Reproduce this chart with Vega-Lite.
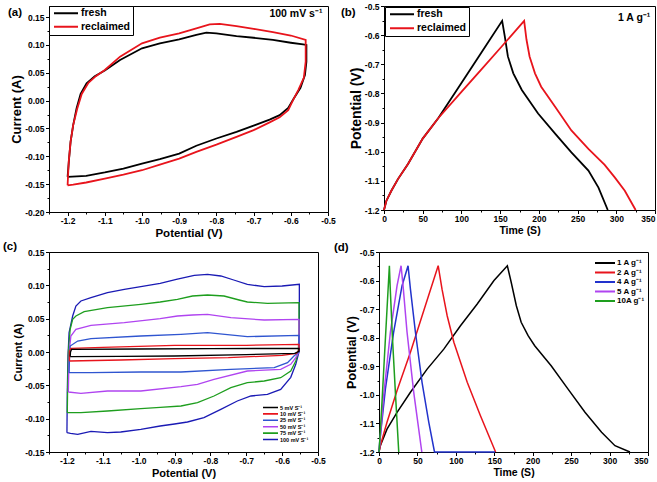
{
"$schema": "https://vega.github.io/schema/vega-lite/v6.json",
"padding": {"left": 2, "top": 1, "right": 0, "bottom": 0},
"background": "white",
"config": {
  "font": "Liberation Sans",
  "view": {"stroke": "#000", "strokeWidth": 1},
  "axis": {"grid": false, "domainColor": "#000", "tickColor": "#000", "tickSize": 3, "labelFont": "Liberation Sans", "labelFontWeight": "bold", "labelFontSize": 8.5, "labelColor": "#000", "titleFont": "Liberation Sans", "titleFontWeight": "bold", "titleColor": "#000", "labelPadding": 1.5, "titlePadding": 1, "labelFlush": false, "labelOverlap": false},
  "axisX": {"labelPadding": 1, "titlePadding": 2},
  "legend": {"labelFont": "Liberation Sans", "labelFontWeight": "bold", "labelColor": "#000", "symbolType": "stroke"},
  "title": {"font": "Liberation Sans", "fontWeight": "bold", "fontSize": 11.5, "color": "#000", "anchor": "start", "frame": "group"}
},
"datasets": {
  "pa": [
    {"s":"fresh","i":0,"x":-1.2,"y":-0.137},{"s":"fresh","i":1,"x":-1.196,"y":-0.104},{"s":"fresh","i":2,"x":-1.192,"y":-0.074},{"s":"fresh","i":3,"x":-1.185,"y":-0.044},{"s":"fresh","i":4,"x":-1.176,"y":-0.014},{"s":"fresh","i":5,"x":-1.165,"y":0.012},{"s":"fresh","i":6,"x":-1.149,"y":0.031},{"s":"fresh","i":7,"x":-1.127,"y":0.044},{"s":"fresh","i":8,"x":-1.1,"y":0.054},{"s":"fresh","i":9,"x":-1.059,"y":0.073},{"s":"fresh","i":10,"x":-1.0,"y":0.094},{"s":"fresh","i":11,"x":-0.952,"y":0.103},{"s":"fresh","i":12,"x":-0.9,"y":0.11},{"s":"fresh","i":13,"x":-0.854,"y":0.118},{"s":"fresh","i":14,"x":-0.827,"y":0.122},{"s":"fresh","i":15,"x":-0.8,"y":0.121},{"s":"fresh","i":16,"x":-0.746,"y":0.116},{"s":"fresh","i":17,"x":-0.7,"y":0.113},{"s":"fresh","i":18,"x":-0.648,"y":0.109},{"s":"fresh","i":19,"x":-0.6,"y":0.104},{"s":"fresh","i":20,"x":-0.567,"y":0.101},{"s":"fresh","i":21,"x":-0.558,"y":0.1},{"s":"fresh","i":22,"x":-0.558,"y":0.07},{"s":"fresh","i":23,"x":-0.562,"y":0.046},{"s":"fresh","i":24,"x":-0.574,"y":0.023},{"s":"fresh","i":25,"x":-0.592,"y":0.004},{"s":"fresh","i":26,"x":-0.607,"y":-0.013},{"s":"fresh","i":27,"x":-0.63,"y":-0.026},{"s":"fresh","i":28,"x":-0.657,"y":-0.034},{"s":"fresh","i":29,"x":-0.7,"y":-0.045},{"s":"fresh","i":30,"x":-0.746,"y":-0.056},{"s":"fresh","i":31,"x":-0.8,"y":-0.068},{"s":"fresh","i":32,"x":-0.854,"y":-0.081},{"s":"fresh","i":33,"x":-0.9,"y":-0.095},{"s":"fresh","i":34,"x":-0.952,"y":-0.105},{"s":"fresh","i":35,"x":-1.0,"y":-0.113},{"s":"fresh","i":36,"x":-1.05,"y":-0.122},{"s":"fresh","i":37,"x":-1.1,"y":-0.129},{"s":"fresh","i":38,"x":-1.15,"y":-0.135},{"s":"fresh","i":39,"x":-1.2,"y":-0.137},
    {"s":"reclaimed","i":0,"x":-1.2,"y":-0.152},{"s":"reclaimed","i":1,"x":-1.197,"y":-0.11},{"s":"reclaimed","i":2,"x":-1.192,"y":-0.074},{"s":"reclaimed","i":3,"x":-1.185,"y":-0.044},{"s":"reclaimed","i":4,"x":-1.174,"y":-0.014},{"s":"reclaimed","i":5,"x":-1.162,"y":0.012},{"s":"reclaimed","i":6,"x":-1.144,"y":0.032},{"s":"reclaimed","i":7,"x":-1.124,"y":0.044},{"s":"reclaimed","i":8,"x":-1.1,"y":0.055},{"s":"reclaimed","i":9,"x":-1.059,"y":0.079},{"s":"reclaimed","i":10,"x":-1.0,"y":0.103},{"s":"reclaimed","i":11,"x":-0.952,"y":0.113},{"s":"reclaimed","i":12,"x":-0.9,"y":0.121},{"s":"reclaimed","i":13,"x":-0.854,"y":0.13},{"s":"reclaimed","i":14,"x":-0.818,"y":0.137},{"s":"reclaimed","i":15,"x":-0.791,"y":0.138},{"s":"reclaimed","i":16,"x":-0.746,"y":0.134},{"s":"reclaimed","i":17,"x":-0.7,"y":0.129},{"s":"reclaimed","i":18,"x":-0.648,"y":0.123},{"s":"reclaimed","i":19,"x":-0.6,"y":0.117},{"s":"reclaimed","i":20,"x":-0.56,"y":0.109},{"s":"reclaimed","i":21,"x":-0.56,"y":0.07},{"s":"reclaimed","i":22,"x":-0.565,"y":0.041},{"s":"reclaimed","i":23,"x":-0.58,"y":0.019},{"s":"reclaimed","i":24,"x":-0.594,"y":0.001},{"s":"reclaimed","i":25,"x":-0.607,"y":-0.017},{"s":"reclaimed","i":26,"x":-0.63,"y":-0.03},{"s":"reclaimed","i":27,"x":-0.657,"y":-0.039},{"s":"reclaimed","i":28,"x":-0.7,"y":-0.053},{"s":"reclaimed","i":29,"x":-0.746,"y":-0.065},{"s":"reclaimed","i":30,"x":-0.8,"y":-0.079},{"s":"reclaimed","i":31,"x":-0.854,"y":-0.092},{"s":"reclaimed","i":32,"x":-0.9,"y":-0.104},{"s":"reclaimed","i":33,"x":-0.952,"y":-0.115},{"s":"reclaimed","i":34,"x":-1.0,"y":-0.125},{"s":"reclaimed","i":35,"x":-1.05,"y":-0.133},{"s":"reclaimed","i":36,"x":-1.1,"y":-0.14},{"s":"reclaimed","i":37,"x":-1.15,"y":-0.147},{"s":"reclaimed","i":38,"x":-1.185,"y":-0.151},{"s":"reclaimed","i":39,"x":-1.2,"y":-0.152}
  ],
  "pb": [
    {"s":"fresh","i":0,"x":0,"y":-1.2},{"s":"fresh","i":1,"x":3,"y":-1.169},{"s":"fresh","i":2,"x":9.5,"y":-1.134},{"s":"fresh","i":3,"x":18,"y":-1.094},{"s":"fresh","i":4,"x":31,"y":-1.042},{"s":"fresh","i":5,"x":50,"y":-0.955},{"s":"fresh","i":6,"x":70,"y":-0.885},{"s":"fresh","i":7,"x":100,"y":-0.764},{"s":"fresh","i":8,"x":125,"y":-0.663},{"s":"fresh","i":9,"x":152.6,"y":-0.551},{"s":"fresh","i":10,"x":156,"y":-0.604},{"s":"fresh","i":11,"x":160,"y":-0.673},{"s":"fresh","i":12,"x":167,"y":-0.731},{"s":"fresh","i":13,"x":178,"y":-0.788},{"s":"fresh","i":14,"x":199,"y":-0.869},{"s":"fresh","i":15,"x":221,"y":-0.938},{"s":"fresh","i":16,"x":242,"y":-1.002},{"s":"fresh","i":17,"x":264,"y":-1.065},{"s":"fresh","i":18,"x":277,"y":-1.123},{"s":"fresh","i":19,"x":289,"y":-1.2},
    {"s":"reclaimed","i":0,"x":0,"y":-1.2},{"s":"reclaimed","i":1,"x":3,"y":-1.169},{"s":"reclaimed","i":2,"x":9.5,"y":-1.134},{"s":"reclaimed","i":3,"x":18,"y":-1.094},{"s":"reclaimed","i":4,"x":31,"y":-1.042},{"s":"reclaimed","i":5,"x":50,"y":-0.955},{"s":"reclaimed","i":6,"x":70,"y":-0.885},{"s":"reclaimed","i":7,"x":100,"y":-0.795},{"s":"reclaimed","i":8,"x":125,"y":-0.72},{"s":"reclaimed","i":9,"x":150,"y":-0.645},{"s":"reclaimed","i":10,"x":181,"y":-0.551},{"s":"reclaimed","i":11,"x":184,"y":-0.615},{"s":"reclaimed","i":12,"x":188,"y":-0.673},{"s":"reclaimed","i":13,"x":195,"y":-0.731},{"s":"reclaimed","i":14,"x":203,"y":-0.777},{"s":"reclaimed","i":15,"x":221,"y":-0.846},{"s":"reclaimed","i":16,"x":242,"y":-0.927},{"s":"reclaimed","i":17,"x":264,"y":-0.99},{"s":"reclaimed","i":18,"x":285,"y":-1.045},{"s":"reclaimed","i":19,"x":298,"y":-1.088},{"s":"reclaimed","i":20,"x":311,"y":-1.134},{"s":"reclaimed","i":21,"x":325,"y":-1.2}
  ],
  "pc": [
    {"s":"100 mV S⁻¹","i":0,"x":-1.2,"y":-0.121},{"s":"100 mV S⁻¹","i":1,"x":-1.199,"y":-0.06},{"s":"100 mV S⁻¹","i":2,"x":-1.197,"y":-0.006},{"s":"100 mV S⁻¹","i":3,"x":-1.194,"y":0.029},{"s":"100 mV S⁻¹","i":4,"x":-1.184,"y":0.054},{"s":"100 mV S⁻¹","i":5,"x":-1.175,"y":0.069},{"s":"100 mV S⁻¹","i":6,"x":-1.161,"y":0.0765},{"s":"100 mV S⁻¹","i":7,"x":-1.133,"y":0.0815},{"s":"100 mV S⁻¹","i":8,"x":-1.087,"y":0.089},{"s":"100 mV S⁻¹","i":9,"x":-1.04,"y":0.094},{"s":"100 mV S⁻¹","i":10,"x":-0.994,"y":0.098},{"s":"100 mV S⁻¹","i":11,"x":-0.94,"y":0.103},{"s":"100 mV S⁻¹","i":12,"x":-0.895,"y":0.109},{"s":"100 mV S⁻¹","i":13,"x":-0.845,"y":0.115},{"s":"100 mV S⁻¹","i":14,"x":-0.808,"y":0.1165},{"s":"100 mV S⁻¹","i":15,"x":-0.771,"y":0.114},{"s":"100 mV S⁻¹","i":16,"x":-0.735,"y":0.108},{"s":"100 mV S⁻¹","i":17,"x":-0.697,"y":0.1015},{"s":"100 mV S⁻¹","i":18,"x":-0.65,"y":0.098},{"s":"100 mV S⁻¹","i":19,"x":-0.6,"y":0.099},{"s":"100 mV S⁻¹","i":20,"x":-0.552,"y":0.1015},{"s":"100 mV S⁻¹","i":21,"x":-0.552,"y":0.04},{"s":"100 mV S⁻¹","i":22,"x":-0.553,"y":0.0},{"s":"100 mV S⁻¹","i":23,"x":-0.562,"y":-0.0185},{"s":"100 mV S⁻¹","i":24,"x":-0.576,"y":-0.038},{"s":"100 mV S⁻¹","i":25,"x":-0.604,"y":-0.056},{"s":"100 mV S⁻¹","i":26,"x":-0.641,"y":-0.0635},{"s":"100 mV S⁻¹","i":27,"x":-0.687,"y":-0.066},{"s":"100 mV S⁻¹","i":28,"x":-0.725,"y":-0.0735},{"s":"100 mV S⁻¹","i":29,"x":-0.771,"y":-0.086},{"s":"100 mV S⁻¹","i":30,"x":-0.818,"y":-0.0985},{"s":"100 mV S⁻¹","i":31,"x":-0.864,"y":-0.105},{"s":"100 mV S⁻¹","i":32,"x":-0.9,"y":-0.108},{"s":"100 mV S⁻¹","i":33,"x":-0.94,"y":-0.111},{"s":"100 mV S⁻¹","i":34,"x":-0.994,"y":-0.116},{"s":"100 mV S⁻¹","i":35,"x":-1.05,"y":-0.12},{"s":"100 mV S⁻¹","i":36,"x":-1.087,"y":-0.121},{"s":"100 mV S⁻¹","i":37,"x":-1.133,"y":-0.119},{"s":"100 mV S⁻¹","i":38,"x":-1.17,"y":-0.1235},{"s":"100 mV S⁻¹","i":39,"x":-1.19,"y":-0.122},{"s":"100 mV S⁻¹","i":40,"x":-1.2,"y":-0.121},
    {"s":"75 mV S⁻¹","i":0,"x":-1.199,"y":-0.091},{"s":"75 mV S⁻¹","i":1,"x":-1.198,"y":-0.05},{"s":"75 mV S⁻¹","i":2,"x":-1.196,"y":0.0},{"s":"75 mV S⁻¹","i":3,"x":-1.191,"y":0.034},{"s":"75 mV S⁻¹","i":4,"x":-1.184,"y":0.049},{"s":"75 mV S⁻¹","i":5,"x":-1.175,"y":0.054},{"s":"75 mV S⁻¹","i":6,"x":-1.152,"y":0.0605},{"s":"75 mV S⁻¹","i":7,"x":-1.087,"y":0.0665},{"s":"75 mV S⁻¹","i":8,"x":-0.994,"y":0.0715},{"s":"75 mV S⁻¹","i":9,"x":-0.94,"y":0.075},{"s":"75 mV S⁻¹","i":10,"x":-0.892,"y":0.079},{"s":"75 mV S⁻¹","i":11,"x":-0.85,"y":0.084},{"s":"75 mV S⁻¹","i":12,"x":-0.808,"y":0.0855},{"s":"75 mV S⁻¹","i":13,"x":-0.762,"y":0.084},{"s":"75 mV S⁻¹","i":14,"x":-0.72,"y":0.078},{"s":"75 mV S⁻¹","i":15,"x":-0.697,"y":0.075},{"s":"75 mV S⁻¹","i":16,"x":-0.641,"y":0.073},{"s":"75 mV S⁻¹","i":17,"x":-0.553,"y":0.074},{"s":"75 mV S⁻¹","i":18,"x":-0.553,"y":0.03},{"s":"75 mV S⁻¹","i":19,"x":-0.555,"y":0.0},{"s":"75 mV S⁻¹","i":20,"x":-0.562,"y":-0.0135},{"s":"75 mV S⁻¹","i":21,"x":-0.576,"y":-0.0285},{"s":"75 mV S⁻¹","i":22,"x":-0.604,"y":-0.0385},{"s":"75 mV S⁻¹","i":23,"x":-0.65,"y":-0.0435},{"s":"75 mV S⁻¹","i":24,"x":-0.697,"y":-0.046},{"s":"75 mV S⁻¹","i":25,"x":-0.743,"y":-0.0535},{"s":"75 mV S⁻¹","i":26,"x":-0.79,"y":-0.066},{"s":"75 mV S⁻¹","i":27,"x":-0.836,"y":-0.076},{"s":"75 mV S⁻¹","i":28,"x":-0.882,"y":-0.081},{"s":"75 mV S⁻¹","i":29,"x":-0.94,"y":-0.083},{"s":"75 mV S⁻¹","i":30,"x":-0.994,"y":-0.085},{"s":"75 mV S⁻¹","i":31,"x":-1.087,"y":-0.0885},{"s":"75 mV S⁻¹","i":32,"x":-1.161,"y":-0.091},{"s":"75 mV S⁻¹","i":33,"x":-1.199,"y":-0.091},
    {"s":"50 mV S⁻¹","i":0,"x":-1.196,"y":-0.06},{"s":"50 mV S⁻¹","i":1,"x":-1.195,"y":-0.031},{"s":"50 mV S⁻¹","i":2,"x":-1.193,"y":0.004},{"s":"50 mV S⁻¹","i":3,"x":-1.189,"y":0.024},{"s":"50 mV S⁻¹","i":4,"x":-1.175,"y":0.034},{"s":"50 mV S⁻¹","i":5,"x":-1.133,"y":0.04},{"s":"50 mV S⁻¹","i":6,"x":-1.04,"y":0.044},{"s":"50 mV S⁻¹","i":7,"x":-0.94,"y":0.05},{"s":"50 mV S⁻¹","i":8,"x":-0.892,"y":0.054},{"s":"50 mV S⁻¹","i":9,"x":-0.85,"y":0.0555},{"s":"50 mV S⁻¹","i":10,"x":-0.808,"y":0.0565},{"s":"50 mV S⁻¹","i":11,"x":-0.743,"y":0.0515},{"s":"50 mV S⁻¹","i":12,"x":-0.65,"y":0.048},{"s":"50 mV S⁻¹","i":13,"x":-0.553,"y":0.049},{"s":"50 mV S⁻¹","i":14,"x":-0.553,"y":0.0},{"s":"50 mV S⁻¹","i":15,"x":-0.562,"y":-0.0085},{"s":"50 mV S⁻¹","i":16,"x":-0.576,"y":-0.0185},{"s":"50 mV S⁻¹","i":17,"x":-0.604,"y":-0.026},{"s":"50 mV S⁻¹","i":18,"x":-0.697,"y":-0.0285},{"s":"50 mV S⁻¹","i":19,"x":-0.79,"y":-0.041},{"s":"50 mV S⁻¹","i":20,"x":-0.836,"y":-0.0485},{"s":"50 mV S⁻¹","i":21,"x":-0.882,"y":-0.052},{"s":"50 mV S⁻¹","i":22,"x":-0.994,"y":-0.0585},{"s":"50 mV S⁻¹","i":23,"x":-1.087,"y":-0.0585},{"s":"50 mV S⁻¹","i":24,"x":-1.161,"y":-0.062},{"s":"50 mV S⁻¹","i":25,"x":-1.196,"y":-0.06},
    {"s":"25 mV S⁻¹","i":0,"x":-1.194,"y":-0.031},{"s":"25 mV S⁻¹","i":1,"x":-1.193,"y":-0.011},{"s":"25 mV S⁻¹","i":2,"x":-1.191,"y":0.009},{"s":"25 mV S⁻¹","i":3,"x":-1.17,"y":0.0165},{"s":"25 mV S⁻¹","i":4,"x":-1.133,"y":0.02},{"s":"25 mV S⁻¹","i":5,"x":-0.994,"y":0.024},{"s":"25 mV S⁻¹","i":6,"x":-0.882,"y":0.0265},{"s":"25 mV S⁻¹","i":7,"x":-0.808,"y":0.029},{"s":"25 mV S⁻¹","i":8,"x":-0.697,"y":0.023},{"s":"25 mV S⁻¹","i":9,"x":-0.553,"y":0.025},{"s":"25 mV S⁻¹","i":10,"x":-0.553,"y":0.0},{"s":"25 mV S⁻¹","i":11,"x":-0.567,"y":-0.006},{"s":"25 mV S⁻¹","i":12,"x":-0.585,"y":-0.016},{"s":"25 mV S⁻¹","i":13,"x":-0.622,"y":-0.0235},{"s":"25 mV S⁻¹","i":14,"x":-0.743,"y":-0.026},{"s":"25 mV S⁻¹","i":15,"x":-0.882,"y":-0.03},{"s":"25 mV S⁻¹","i":16,"x":-0.994,"y":-0.03},{"s":"25 mV S⁻¹","i":17,"x":-1.133,"y":-0.031},{"s":"25 mV S⁻¹","i":18,"x":-1.194,"y":-0.031},
    {"s":"10 mV S⁻¹","i":0,"x":-1.193,"y":-0.0135},{"s":"10 mV S⁻¹","i":1,"x":-1.193,"y":0.001},{"s":"10 mV S⁻¹","i":2,"x":-1.189,"y":0.0055},{"s":"10 mV S⁻¹","i":3,"x":-1.1,"y":0.007},{"s":"10 mV S⁻¹","i":4,"x":-0.9,"y":0.01},{"s":"10 mV S⁻¹","i":5,"x":-0.7,"y":0.01},{"s":"10 mV S⁻¹","i":6,"x":-0.553,"y":0.0115},{"s":"10 mV S⁻¹","i":7,"x":-0.553,"y":0.003},{"s":"10 mV S⁻¹","i":8,"x":-0.56,"y":-0.002},{"s":"10 mV S⁻¹","i":9,"x":-0.6,"y":-0.005},{"s":"10 mV S⁻¹","i":10,"x":-0.75,"y":-0.0085},{"s":"10 mV S⁻¹","i":11,"x":-0.9,"y":-0.01},{"s":"10 mV S⁻¹","i":12,"x":-1.05,"y":-0.012},{"s":"10 mV S⁻¹","i":13,"x":-1.193,"y":-0.0135},
    {"s":"5 mV S⁻¹","i":0,"x":-1.191,"y":-0.007},{"s":"5 mV S⁻¹","i":1,"x":-1.19,"y":0.0},{"s":"5 mV S⁻¹","i":2,"x":-1.187,"y":0.004},{"s":"5 mV S⁻¹","i":3,"x":-1.0,"y":0.0045},{"s":"5 mV S⁻¹","i":4,"x":-0.8,"y":0.005},{"s":"5 mV S⁻¹","i":5,"x":-0.553,"y":0.0055},{"s":"5 mV S⁻¹","i":6,"x":-0.553,"y":0.001},{"s":"5 mV S⁻¹","i":7,"x":-0.565,"y":-0.002},{"s":"5 mV S⁻¹","i":8,"x":-0.7,"y":-0.004},{"s":"5 mV S⁻¹","i":9,"x":-0.9,"y":-0.006},{"s":"5 mV S⁻¹","i":10,"x":-1.05,"y":-0.0065},{"s":"5 mV S⁻¹","i":11,"x":-1.191,"y":-0.007}
  ],
  "pd": [
    {"s":"1 A g⁻¹","i":0,"x":0,"y":-1.2},{"s":"1 A g⁻¹","i":1,"x":1.7,"y":-1.178},{"s":"1 A g⁻¹","i":2,"x":10.4,"y":-1.12},{"s":"1 A g⁻¹","i":3,"x":23.5,"y":-1.061},{"s":"1 A g⁻¹","i":4,"x":40.9,"y":-0.991},{"s":"1 A g⁻¹","i":5,"x":62.6,"y":-0.91},{"s":"1 A g⁻¹","i":6,"x":84.3,"y":-0.84},{"s":"1 A g⁻¹","i":7,"x":106,"y":-0.758},{"s":"1 A g⁻¹","i":8,"x":127.8,"y":-0.682},{"s":"1 A g⁻¹","i":9,"x":149.6,"y":-0.6},{"s":"1 A g⁻¹","i":10,"x":167,"y":-0.548},{"s":"1 A g⁻¹","i":11,"x":172,"y":-0.606},{"s":"1 A g⁻¹","i":12,"x":178.7,"y":-0.688},{"s":"1 A g⁻¹","i":13,"x":185,"y":-0.746},{"s":"1 A g⁻¹","i":14,"x":194,"y":-0.793},{"s":"1 A g⁻¹","i":15,"x":202.6,"y":-0.828},{"s":"1 A g⁻¹","i":16,"x":224,"y":-0.898},{"s":"1 A g⁻¹","i":17,"x":246,"y":-0.98},{"s":"1 A g⁻¹","i":18,"x":268,"y":-1.061},{"s":"1 A g⁻¹","i":19,"x":289.6,"y":-1.131},{"s":"1 A g⁻¹","i":20,"x":307,"y":-1.178},{"s":"1 A g⁻¹","i":21,"x":326.5,"y":-1.2},
    {"s":"2 A g⁻¹","i":0,"x":0,"y":-1.2},{"s":"2 A g⁻¹","i":1,"x":1.7,"y":-1.178},{"s":"2 A g⁻¹","i":2,"x":10.4,"y":-1.096},{"s":"2 A g⁻¹","i":3,"x":23.5,"y":-0.985},{"s":"2 A g⁻¹","i":4,"x":40.9,"y":-0.851},{"s":"2 A g⁻¹","i":5,"x":58.3,"y":-0.705},{"s":"2 A g⁻¹","i":6,"x":77,"y":-0.548},{"s":"2 A g⁻¹","i":7,"x":82,"y":-0.63},{"s":"2 A g⁻¹","i":8,"x":88.7,"y":-0.723},{"s":"2 A g⁻¹","i":9,"x":97.4,"y":-0.816},{"s":"2 A g⁻¹","i":10,"x":114.8,"y":-0.956},{"s":"2 A g⁻¹","i":11,"x":132,"y":-1.073},{"s":"2 A g⁻¹","i":12,"x":151.7,"y":-1.2},
    {"s":"4 A g⁻¹","i":0,"x":0,"y":-1.2},{"s":"4 A g⁻¹","i":1,"x":0.9,"y":-1.165},{"s":"4 A g⁻¹","i":2,"x":8.3,"y":-0.98},{"s":"4 A g⁻¹","i":3,"x":19,"y":-0.781},{"s":"4 A g⁻¹","i":4,"x":30,"y":-0.618},{"s":"4 A g⁻¹","i":5,"x":37.8,"y":-0.548},{"s":"4 A g⁻¹","i":6,"x":40.9,"y":-0.63},{"s":"4 A g⁻¹","i":7,"x":47.4,"y":-0.781},{"s":"4 A g⁻¹","i":8,"x":56,"y":-0.956},{"s":"4 A g⁻¹","i":9,"x":64.8,"y":-1.096},{"s":"4 A g⁻¹","i":10,"x":72.2,"y":-1.2},{"s":"4 A g⁻¹","i":11,"x":151,"y":-1.2},
    {"s":"5 A g⁻¹","i":0,"x":0,"y":-1.2},{"s":"5 A g⁻¹","i":1,"x":0.9,"y":-1.176},{"s":"5 A g⁻¹","i":2,"x":6,"y":-1.003},{"s":"5 A g⁻¹","i":3,"x":14.8,"y":-0.781},{"s":"5 A g⁻¹","i":4,"x":23.5,"y":-0.618},{"s":"5 A g⁻¹","i":5,"x":28.7,"y":-0.548},{"s":"5 A g⁻¹","i":6,"x":31.3,"y":-0.618},{"s":"5 A g⁻¹","i":7,"x":36.5,"y":-0.781},{"s":"5 A g⁻¹","i":8,"x":45.2,"y":-0.991},{"s":"5 A g⁻¹","i":9,"x":55.7,"y":-1.2},
    {"s":"10A g⁻¹","i":0,"x":0,"y":-1.2},{"s":"10A g⁻¹","i":1,"x":1,"y":-1.16},{"s":"10A g⁻¹","i":2,"x":4,"y":-1.02},{"s":"10A g⁻¹","i":3,"x":8,"y":-0.82},{"s":"10A g⁻¹","i":4,"x":13.5,"y":-0.548},{"s":"10A g⁻¹","i":5,"x":14.5,"y":-0.62},{"s":"10A g⁻¹","i":6,"x":17.5,"y":-0.8},{"s":"10A g⁻¹","i":7,"x":21.5,"y":-1.0},{"s":"10A g⁻¹","i":8,"x":25.7,"y":-1.2}
  ]
},
"spacing": 1,
"resolve": {"scale": {"color": "independent"}, "legend": {"color": "independent"}},
"vconcat": [
  {"spacing": 4, "resolve": {"scale": {"color": "independent"}, "legend": {"color": "independent"}}, "hconcat": [
    {"width": 279, "height": 206,
     "title": {"text": "(a)", "dx": -41, "dy": 17},
     "layer": [
      {"data": {"name": "pa"}, "mark": {"type": "line", "strokeWidth": 1.8},
       "encoding": {
        "x": {"field": "x", "type": "quantitative", "scale": {"domain": [-1.25, -0.5], "nice": false, "zero": false}, "axis": {"title": "Potential (V)", "titleFontSize": 11.5, "values": [-1.25, -1.2, -1.15, -1.1, -1.05, -1.0, -0.95, -0.9, -0.85, -0.8, -0.75, -0.7, -0.65, -0.6, -0.55, -0.5], "tickSize": {"condition": {"test": "abs(datum.value*10 - round(datum.value*10)) < 0.001", "value": 3.5}, "value": 2}, "labelExpr": "abs(datum.value*10 - round(datum.value*10)) < 0.001 ? replace(format(datum.value, '.1f'), '−', '-') : ''"}},
        "y": {"field": "y", "type": "quantitative", "scale": {"domain": [-0.2, 0.17], "nice": false, "zero": false}, "axis": {"title": "Current (A)", "titleFontSize": 13, "values": [-0.2, -0.175, -0.15, -0.125, -0.1, -0.075, -0.05, -0.025, 0, 0.025, 0.05, 0.075, 0.1, 0.125, 0.15], "tickSize": {"condition": {"test": "abs(datum.value*20 - round(datum.value*20)) < 0.001", "value": 3.5}, "value": 2}, "labelExpr": "abs(datum.value*20 - round(datum.value*20)) < 0.001 ? replace(format(datum.value, '.2f'), '−', '-') : ''"}},
        "color": {"field": "s", "type": "nominal", "scale": {"domain": ["fresh", "reclaimed"], "range": ["#000000", "#e8141c"]},
          "legend": {"title": null, "orient": "top-left", "offset": 0, "padding": 2, "strokeColor": "#000", "fillColor": "#fff", "labelFontSize": 10.5, "symbolSize": 576, "symbolStrokeWidth": 2, "symbolOffset": 2, "labelOffset": 2, "rowPadding": 2.5, "clipHeight": 10.5}},
        "order": {"field": "i", "type": "quantitative"}
       }},
      {"data": {"values": [{}]}, "mark": {"type": "text", "text": "100 mV s⁻¹", "align": "right", "baseline": "middle", "fontSize": 10.5, "fontWeight": "bold", "color": "#000"},
       "encoding": {
        "x": {"datum": -0.515, "type": "quantitative", "axis": {"title": "Potential (V)", "titleFontSize": 11.5, "values": [-1.25, -1.2, -1.15, -1.1, -1.05, -1.0, -0.95, -0.9, -0.85, -0.8, -0.75, -0.7, -0.65, -0.6, -0.55, -0.5], "tickSize": {"condition": {"test": "abs(datum.value*10 - round(datum.value*10)) < 0.001", "value": 3.5}, "value": 2}, "labelExpr": "abs(datum.value*10 - round(datum.value*10)) < 0.001 ? replace(format(datum.value, '.1f'), '−', '-') : ''"}},
        "y": {"datum": 0.155, "type": "quantitative", "axis": {"title": "Current (A)", "titleFontSize": 13, "values": [-0.2, -0.175, -0.15, -0.125, -0.1, -0.075, -0.05, -0.025, 0, 0.025, 0.05, 0.075, 0.1, 0.125, 0.15], "tickSize": {"condition": {"test": "abs(datum.value*20 - round(datum.value*20)) < 0.001", "value": 3.5}, "value": 2}, "labelExpr": "abs(datum.value*20 - round(datum.value*20)) < 0.001 ? replace(format(datum.value, '.2f'), '−', '-') : ''"}}}}
     ]},
    {"width": 271, "height": 204,
     "title": {"text": "(b)", "dx": -43, "dy": 20},
     "layer": [
      {"data": {"name": "pb"}, "mark": {"type": "line", "strokeWidth": 1.8},
       "encoding": {
        "x": {"field": "x", "type": "quantitative", "scale": {"domain": [0, 350], "nice": false}, "axis": {"title": "Time (S)", "titleFontSize": 10.5, "values": [0, 25, 50, 75, 100, 125, 150, 175, 200, 225, 250, 275, 300, 325, 350], "tickSize": {"condition": {"test": "datum.value % 50 === 0", "value": 3.5}, "value": 2}, "labelAlign": {"condition": {"test": "datum.value === 350", "value": "right"}, "value": "center"}, "labelExpr": "datum.value % 50 === 0 ? datum.label : ''"}},
        "y": {"field": "y", "type": "quantitative", "scale": {"domain": [-1.2, -0.5], "nice": false, "zero": false}, "axis": {"title": "Potential (V)", "titleFontSize": 14, "values": [-1.2, -1.15, -1.1, -1.05, -1.0, -0.95, -0.9, -0.85, -0.8, -0.75, -0.7, -0.65, -0.6, -0.55, -0.5], "tickSize": {"condition": {"test": "abs(datum.value*10 - round(datum.value*10)) < 0.001", "value": 3.5}, "value": 2}, "labelExpr": "abs(datum.value*10 - round(datum.value*10)) < 0.001 ? replace(format(datum.value, '.1f'), '−', '-') : ''"}},
        "color": {"field": "s", "type": "nominal", "scale": {"domain": ["fresh", "reclaimed"], "range": ["#000000", "#e8141c"]},
          "legend": {"title": null, "orient": "top-left", "offset": 1, "padding": 2, "strokeColor": "#000", "fillColor": "#fff", "labelFontSize": 10.5, "symbolSize": 576, "symbolStrokeWidth": 2, "symbolOffset": 2, "labelOffset": 2, "rowPadding": 3, "clipHeight": 10.5}},
        "order": {"field": "i", "type": "quantitative"}
       }},
      {"data": {"values": [{}]}, "mark": {"type": "text", "text": "1 A g⁻¹", "align": "right", "baseline": "middle", "fontSize": 10.5, "fontWeight": "bold", "color": "#000"},
       "encoding": {
        "x": {"datum": 344, "type": "quantitative", "axis": {"title": "Time (S)", "titleFontSize": 10.5, "values": [0, 25, 50, 75, 100, 125, 150, 175, 200, 225, 250, 275, 300, 325, 350], "tickSize": {"condition": {"test": "datum.value % 50 === 0", "value": 3.5}, "value": 2}, "labelAlign": {"condition": {"test": "datum.value === 350", "value": "right"}, "value": "center"}, "labelExpr": "datum.value % 50 === 0 ? datum.label : ''"}},
        "y": {"datum": -0.54, "type": "quantitative", "axis": {"title": "Potential (V)", "titleFontSize": 14, "values": [-1.2, -1.15, -1.1, -1.05, -1.0, -0.95, -0.9, -0.85, -0.8, -0.75, -0.7, -0.65, -0.6, -0.55, -0.5], "tickSize": {"condition": {"test": "abs(datum.value*10 - round(datum.value*10)) < 0.001", "value": 3.5}, "value": 2}, "labelExpr": "abs(datum.value*10 - round(datum.value*10)) < 0.001 ? replace(format(datum.value, '.1f'), '−', '-') : ''"}}}}
     ]}
  ]},
  {"spacing": 7, "resolve": {"scale": {"color": "independent"}, "legend": {"color": "independent"}}, "hconcat": [
    {"width": 269, "height": 200,
     "title": {"text": "(c)", "dx": -46, "dy": 8},
     "data": {"name": "pc"}, "mark": {"type": "line", "strokeWidth": 1.3},
     "encoding": {
      "x": {"field": "x", "type": "quantitative", "scale": {"domain": [-1.25, -0.5], "nice": false, "zero": false}, "axis": {"title": "Potential (V)", "titleFontSize": 11, "values": [-1.25, -1.2, -1.15, -1.1, -1.05, -1.0, -0.95, -0.9, -0.85, -0.8, -0.75, -0.7, -0.65, -0.6, -0.55, -0.5], "tickSize": {"condition": {"test": "abs(datum.value*10 - round(datum.value*10)) < 0.001", "value": 3.5}, "value": 2}, "labelExpr": "abs(datum.value*10 - round(datum.value*10)) < 0.001 ? replace(format(datum.value, '.1f'), '−', '-') : ''"}},
      "y": {"field": "y", "type": "quantitative", "scale": {"domain": [-0.15, 0.15], "nice": false, "zero": false}, "axis": {"title": "Current (A)", "titleFontSize": 11, "values": [-0.15, -0.125, -0.1, -0.075, -0.05, -0.025, 0, 0.025, 0.05, 0.075, 0.1, 0.125, 0.15], "tickSize": {"condition": {"test": "abs(datum.value*20 - round(datum.value*20)) < 0.001", "value": 3.5}, "value": 2}, "labelExpr": "abs(datum.value*20 - round(datum.value*20)) < 0.001 ? replace(format(datum.value, '.2f'), '−', '-') : ''"}},
      "color": {"field": "s", "type": "nominal", "scale": {"domain": ["5 mV S⁻¹", "10 mV S⁻¹", "25 mV S⁻¹", "50 mV S⁻¹", "75 mV S⁻¹", "100 mV S⁻¹"], "range": ["#000000", "#e8141c", "#2f55d0", "#b044f0", "#1e9e1e", "#1a1ab4"]},
        "legend": {"title": null, "orient": "bottom-right", "offset": 9, "padding": 0, "labelFontSize": 5.5, "symbolSize": 225, "symbolStrokeWidth": 1.6, "labelOffset": 1, "rowPadding": 0.4, "clipHeight": 5}},
      "order": {"field": "i", "type": "quantitative"}
     }},
    {"width": 269, "height": 200,
     "title": {"text": "(d)", "dx": -45, "dy": 9},
     "data": {"name": "pd"}, "mark": {"type": "line", "strokeWidth": 1.5},
     "encoding": {
      "x": {"field": "x", "type": "quantitative", "scale": {"domain": [0, 350], "nice": false}, "axis": {"title": "Time (S)", "titleFontSize": 10.5, "values": [0, 25, 50, 75, 100, 125, 150, 175, 200, 225, 250, 275, 300, 325, 350], "tickSize": {"condition": {"test": "datum.value % 50 === 0", "value": 3.5}, "value": 2}, "labelAlign": {"condition": {"test": "datum.value === 350", "value": "right"}, "value": "center"}, "labelExpr": "datum.value % 50 === 0 ? datum.label : ''"}},
      "y": {"field": "y", "type": "quantitative", "scale": {"domain": [-1.2, -0.5], "nice": false, "zero": false}, "axis": {"title": "Potential (V)", "titleFontSize": 12.5, "values": [-1.2, -1.15, -1.1, -1.05, -1.0, -0.95, -0.9, -0.85, -0.8, -0.75, -0.7, -0.65, -0.6, -0.55, -0.5], "tickSize": {"condition": {"test": "abs(datum.value*10 - round(datum.value*10)) < 0.001", "value": 3.5}, "value": 2}, "labelExpr": "abs(datum.value*10 - round(datum.value*10)) < 0.001 ? replace(format(datum.value, '.1f'), '−', '-') : ''"}},
      "color": {"field": "s", "type": "nominal", "scale": {"domain": ["1 A g⁻¹", "2 A g⁻¹", "4 A g⁻¹", "5 A g⁻¹", "10A g⁻¹"], "range": ["#000000", "#e8141c", "#2233cc", "#b044f0", "#1e9e1e"]},
        "legend": {"title": " ", "titleFontSize": 4, "titlePadding": 0, "orient": "top-right", "offset": 3, "padding": 0, "labelFontSize": 8, "symbolSize": 400, "symbolStrokeWidth": 2, "labelOffset": 1, "rowPadding": 1.5, "clipHeight": 8}},
      "order": {"field": "i", "type": "quantitative"}
     }}
  ]}
]
}
